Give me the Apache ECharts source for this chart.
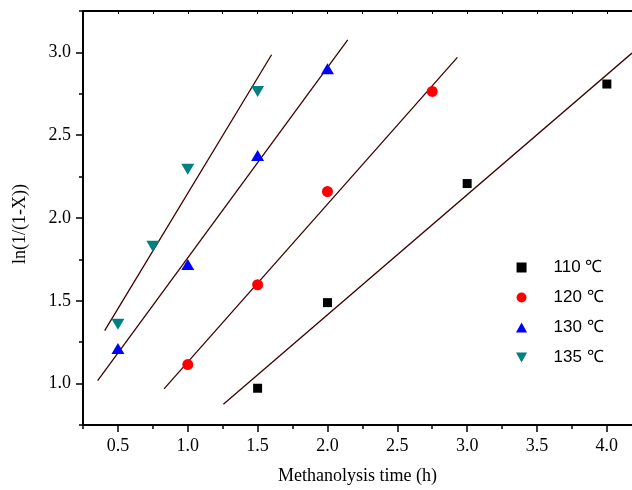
<!DOCTYPE html>
<html>
<head>
<meta charset="utf-8">
<script src="https://cdn.jsdelivr.net/npm/echarts@6/dist/echarts.min.js"></script>
<style>html,body{margin:0;padding:0;background:#fff}#c{width:632px;height:490px}</style>
</head>
<body>
<div id="c"></div>
<script>
// Data
const seriesNames = ['110 ℃', '120 ℃', '130 ℃', '135 ℃'];
const t110 = [[1.5, 0.972], [2.0, 1.489], [3.0, 2.208], [4.0, 2.809]];
const t120 = [[1.0, 1.115], [1.5, 1.597], [2.0, 2.160], [2.75, 2.764]];
const t130 = [[0.5, 1.212], [1.0, 1.719], [1.5, 2.378], [2.0, 2.901]];
const t135 = [[0.5, 1.358], [0.75, 1.829], [1.0, 2.294], [1.5, 2.764]];
// fitted line endpoints
const fit110 = [[1.255, 0.876], [4.18, 2.996]];
const fit120 = [[0.83, 0.968], [2.93, 2.97]];
const fit130 = [[0.355, 1.018], [2.145, 3.076]];
const fit135 = [[0.405, 1.32], [1.60, 2.986]];
// Tick labels
const xMajor = [0.5, 1.0, 1.5, 2.0, 2.5, 3.0, 3.5, 4.0];
const xMinor = [0.25, 0.75, 1.25, 1.75, 2.25, 2.75, 3.25, 3.75];
const yMajor = [1.0, 1.5, 2.0, 2.5, 3.0];
const yMinor = [0.75, 1.25, 1.75, 2.25, 2.75, 3.25];
const xTop = xMajor.concat(xMinor).sort((a, b) => a - b);
const yTitle = 'ln(1/(1-X))';

const serif = 'Liberation Serif, Times New Roman, serif';
const lineClr = '#3d0000';
const axLine = {show: true, lineStyle: {color: '#000', width: 2}};
const SQ = 'path://M0,0 L10,0 L10,10 L0,10 Z';
const TRI_UP = 'path://M5,0 L10,9 L0,9 Z';
const TRI_DN = 'path://M0,0 L10,0 L5,9 Z';
const XMIN = 0.25, XMAX = 4.18, YMIN = 0.75, YMAX = 3.25;

const chart = echarts.init(document.getElementById('c'));
const fitSeries = (d) => ({
  type: 'line', data: d, symbol: 'none', silent: true,
  lineStyle: {color: lineClr, width: 1.3}, legendHoverLink: false, z: 1
});
chart.setOption({
  animation: false,
  grid: {left: 83, top: 11, right: 0, bottom: 63},
  graphic: [{
    type: 'text', left: 11, top: 184, rotation: Math.PI / 2,
    style: {text: yTitle, font: '18px ' + serif, fill: '#000'}
  }],
  legend: {
    orient: 'vertical', left: 511, top: 254,
    itemWidth: 54, itemHeight: 10, itemGap: 13,
    data: seriesNames,
    textStyle: {fontFamily: 'Liberation Sans, Arial, sans-serif', fontSize: 17, color: '#000'}
  },
  xAxis: [
    {type: 'value', position: 'bottom', min: XMIN, max: XMAX,
     name: 'Methanolysis time (h)', nameLocation: 'middle', nameGap: 42,
     nameTextStyle: {fontFamily: serif, fontSize: 18, color: '#000'},
     axisLine: axLine, splitLine: {show: false},
     axisTick: {show: true, length: 7, customValues: xMajor, lineStyle: {color: '#000', width: 1.5}},
     axisLabel: {customValues: xMajor, margin: 12, fontFamily: serif, fontSize: 18, color: '#000',
                 formatter: v => v.toFixed(1)}},
    {type: 'value', position: 'bottom', min: XMIN, max: XMAX,
     axisLine: {show: false}, splitLine: {show: false},
     axisTick: {show: true, length: 4, customValues: xMinor, lineStyle: {color: '#000', width: 1.5}},
     axisLabel: {show: false}},
    {type: 'value', position: 'top', min: XMIN, max: XMAX,
     axisLine: axLine, splitLine: {show: false},
     axisTick: {show: true, inside: true, length: 3, customValues: xTop, lineStyle: {color: '#000', width: 1}},
     axisLabel: {show: false}}
  ],
  yAxis: [
    {type: 'value', position: 'left', min: YMIN, max: YMAX,
     axisLine: axLine, splitLine: {show: false},
     axisTick: {show: true, length: 7, customValues: yMajor, lineStyle: {color: '#000', width: 1.5}},
     axisLabel: {customValues: yMajor, margin: 12, fontFamily: serif, fontSize: 18, color: '#000',
                 formatter: v => v.toFixed(1)}},
    {type: 'value', position: 'left', min: YMIN, max: YMAX,
     axisLine: {show: false}, splitLine: {show: false},
     axisTick: {show: true, length: 4, customValues: yMinor, lineStyle: {color: '#000', width: 1.5}},
     axisLabel: {show: false}}
  ],
  series: [
    fitSeries(fit110), fitSeries(fit120), fitSeries(fit130), fitSeries(fit135),
    {name: seriesNames[0], type: 'scatter', data: t110, symbol: SQ, symbolSize: 9,
     itemStyle: {color: '#000', opacity: 1}, z: 3},
    {name: seriesNames[1], type: 'scatter', data: t120, symbol: 'circle', symbolSize: 11,
     itemStyle: {color: '#ff0000', opacity: 1}, z: 3},
    {name: seriesNames[2], type: 'scatter', data: t130, symbol: TRI_UP, symbolSize: [13, 11],
     itemStyle: {color: '#0000ff', opacity: 1}, z: 3},
    {name: seriesNames[3], type: 'scatter', data: t135, symbol: TRI_DN, symbolSize: [13, 11],
     itemStyle: {color: '#008080', opacity: 1}, z: 3}
  ]
});
</script>
</body>
</html>
